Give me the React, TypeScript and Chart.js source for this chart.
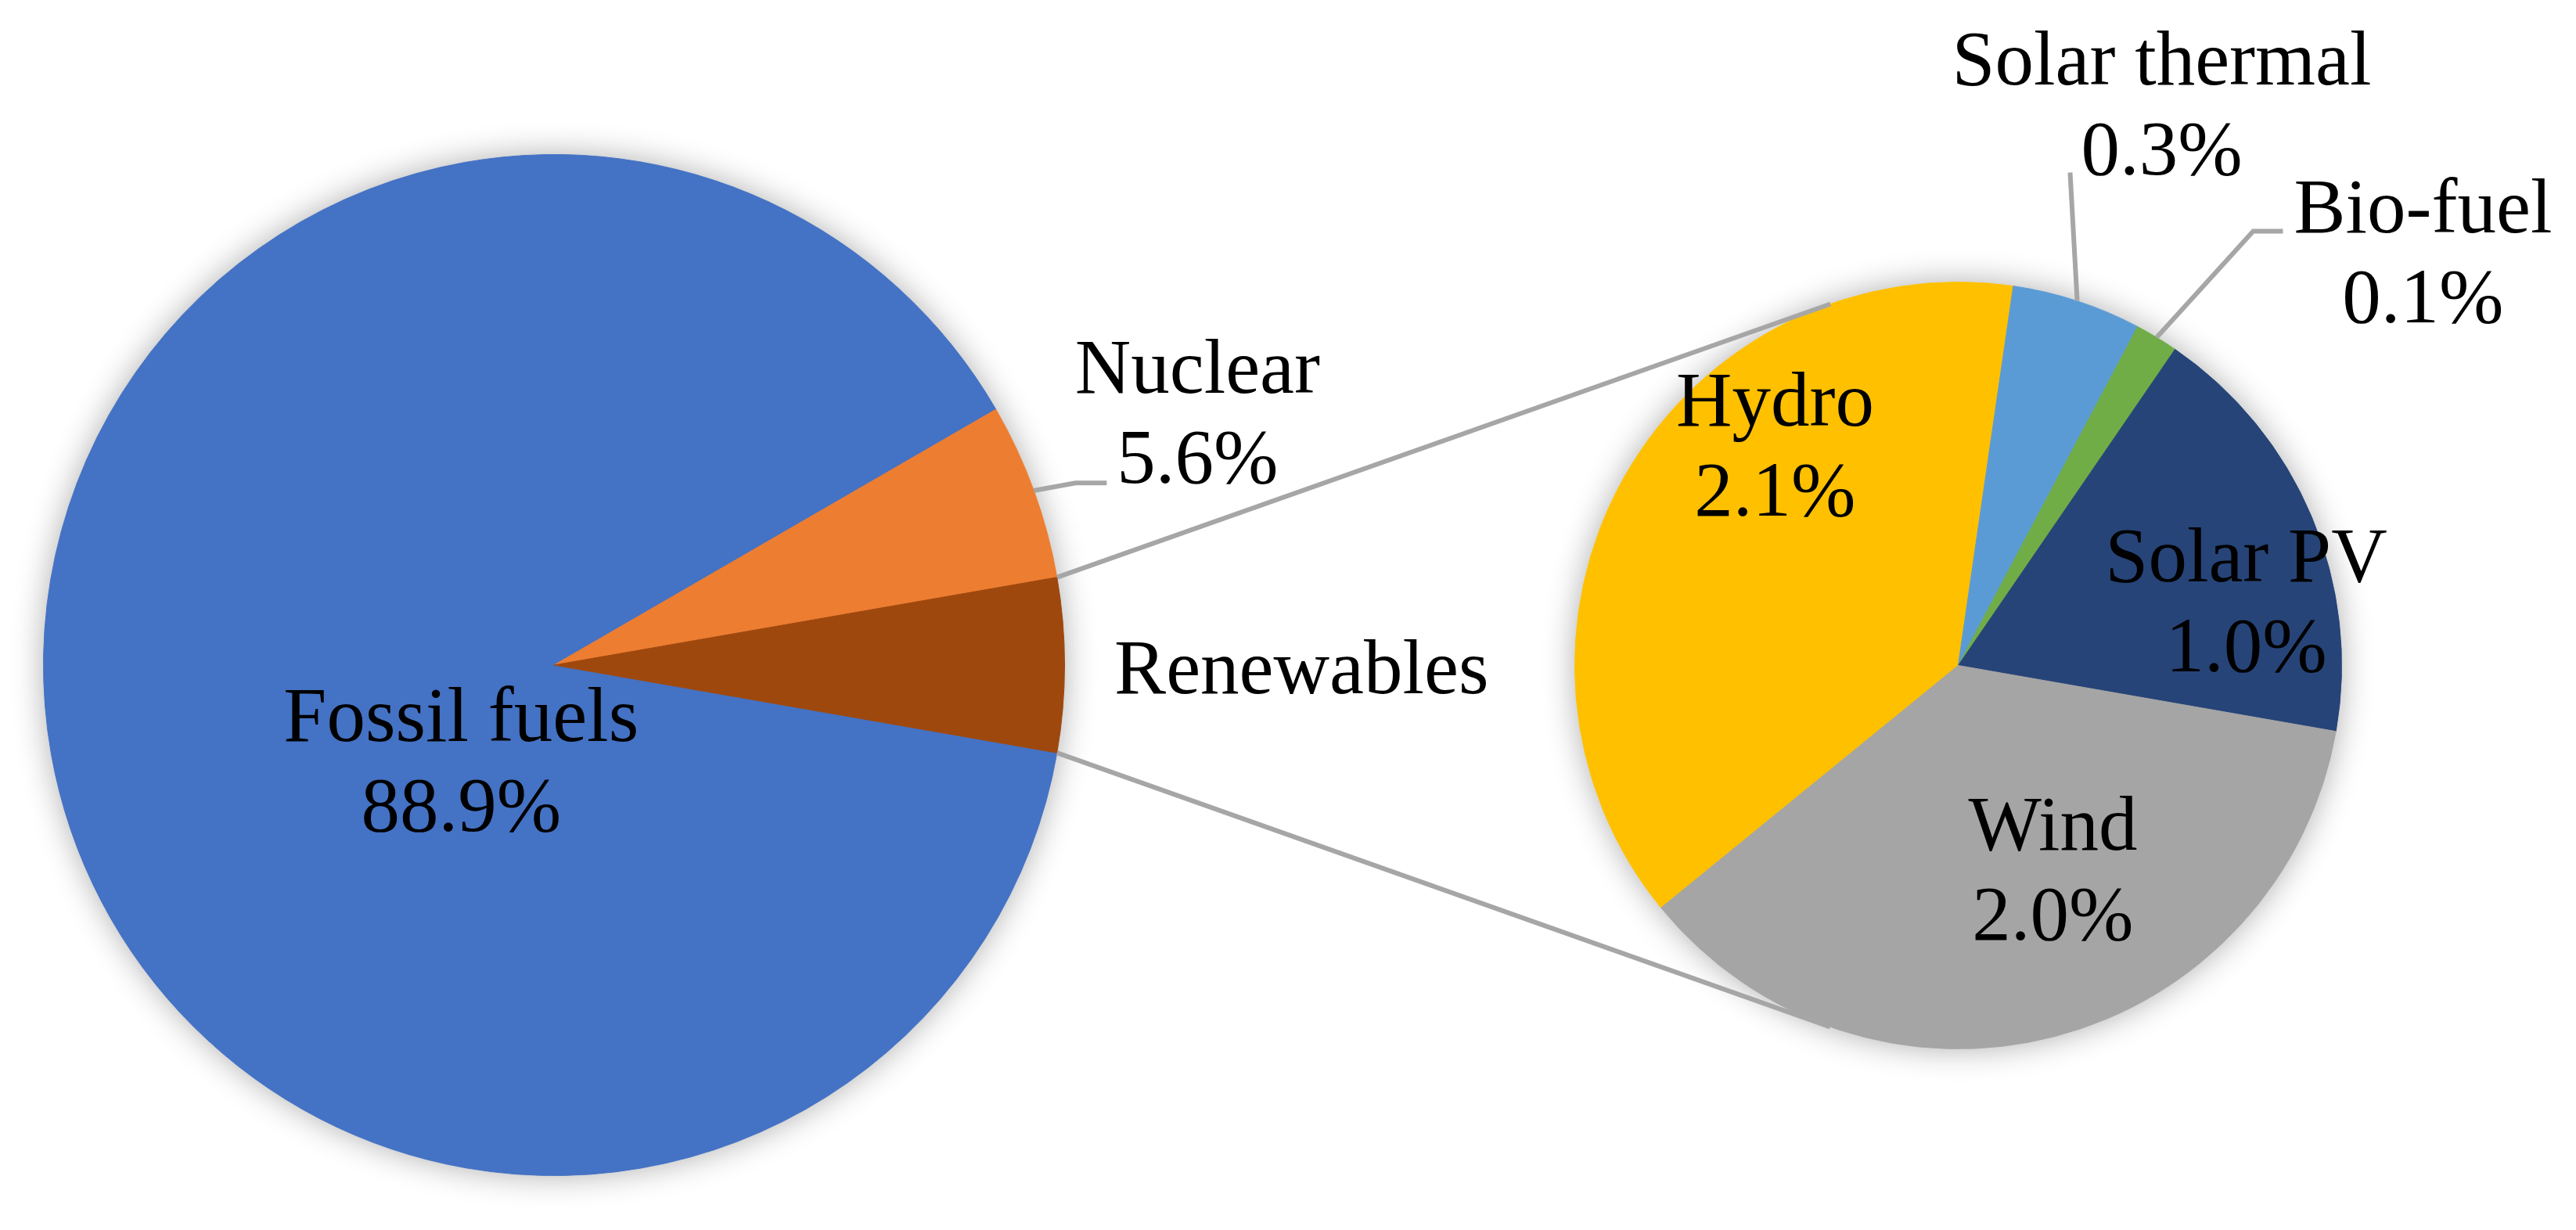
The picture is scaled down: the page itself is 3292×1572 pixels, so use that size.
import React, { useEffect, useRef } from "react";
import { Chart, registerables } from "chart.js";

Chart.register(...registerables);

// ---------- data ----------
const mainLabels = ["Fossil fuels", "Nuclear", "Renewables"];
const mainValues = [88.9, 5.6, 5.5];
const mainShowValue = [true, true, false];

const subLabels = ["Hydro", "Solar thermal", "Bio-fuel", "Solar PV", "Wind"];
const subValues = [2.1, 0.3, 0.1, 1.0, 2.0];
const subShowValue = [true, true, true, true, true];

// ---------- style ----------
const mainColors = ["#4472C4", "#ED7D31", "#9E480E"];
const subColors = ["#FFC000", "#5B9BD5", "#70AD47", "#264478", "#A5A5A5"];

const W = 3292;
const H = 1572;
const FONT = '99px "Liberation Serif", "Times New Roman", serif';
const LINE_H = 115;
const LINE_COLOR = "#A6A6A6";
const LINE_W = 6;

// label anchors (centre of first text line, at its baseline) in units of the pie radius
const mainLabelPos = [
  [-0.182, 0.1485],
  [1.2603, -0.5329],
  [1.464, 0.0551],
];
const subLabelPos = [
  [-0.4776, -0.6265],
  [0.5306, -1.5163],
  [1.2122, -1.1306],
  [0.751, -0.2184],
  [0.2469, 0.4796],
];
// leader lines: [elbowDx, elbowDy, endDx, endDy] in px relative to the label anchor
const mainLeaders: (number[] | null)[] = [null, [-156, 115, -116, 115], null];
const subLeaders: (number[] | null)[] = [null, [-117, 113, -117, 113], [-217, -1, -179, -1], null, null];

function fmt(v: number) {
  return v.toFixed(1) + "%";
}

function decorPlugin(
  id: string,
  labels: string[],
  values: number[],
  showValue: boolean[],
  pos: number[][],
  leaders: (number[] | null)[]
) {
  return {
    id,
    beforeDatasetsDraw(chart: any) {
      const arc = chart.getDatasetMeta(0).data[0];
      if (!arc) return;
      const p = arc.getProps(["x", "y", "outerRadius"], true);
      const ctx = chart.ctx;
      ctx.save();
      ctx.shadowColor = "rgba(0,0,0,0.32)";
      ctx.shadowBlur = 40;
      ctx.fillStyle = "#ffffff";
      ctx.beginPath();
      ctx.arc(p.x, p.y, p.outerRadius, 0, Math.PI * 2);
      ctx.fill();
      ctx.restore();
    },
    afterDatasetsDraw(chart: any) {
      const meta = chart.getDatasetMeta(0);
      const ctx = chart.ctx;
      ctx.save();
      meta.data.forEach((el: any, i: number) => {
        const p = el.getProps(["x", "y", "startAngle", "endAngle", "outerRadius"], true);
        const ax = p.x + pos[i][0] * p.outerRadius;
        const ay = p.y + pos[i][1] * p.outerRadius;
        const ld = leaders[i];
        if (ld) {
          const mid = (p.startAngle + p.endAngle) / 2;
          const sx = p.x + Math.cos(mid) * p.outerRadius;
          const sy = p.y + Math.sin(mid) * p.outerRadius;
          ctx.strokeStyle = LINE_COLOR;
          ctx.lineWidth = LINE_W;
          ctx.lineJoin = "miter";
          ctx.beginPath();
          ctx.moveTo(sx, sy);
          ctx.lineTo(ax + ld[0], ay + ld[1]);
          ctx.lineTo(ax + ld[2], ay + ld[3]);
          ctx.stroke();
        }
        ctx.fillStyle = "#000000";
        ctx.font = FONT;
        ctx.textAlign = "center";
        ctx.textBaseline = "alphabetic";
        ctx.fillText(labels[i], ax, ay);
        if (showValue[i]) ctx.fillText(fmt(values[i]), ax, ay + LINE_H);
      });
      ctx.restore();
    },
  };
}

export default function App() {
  const leftRef = useRef<HTMLCanvasElement | null>(null);
  const rightRef = useRef<HTMLCanvasElement | null>(null);

  useEffect(() => {
    document.body.style.margin = "0";
    if (!leftRef.current || !rightRef.current) return;

    const mainTotal = mainValues.reduce((a, b) => a + b, 0);
    const renewIdx = mainLabels.length - 1;
    const renewShare = mainValues[renewIdx] / mainTotal;
    // renewables slice centred on the right-hand side
    const mainRotation = 90 + 180 * renewShare;

    const subTotal = subValues.reduce((a, b) => a + b, 0);
    const beforeWind = subValues.slice(0, subValues.length - 1).reduce((a, b) => a + b, 0);
    const halfRenewDeg = 180 * renewShare;
    const subStartDeg = halfRenewDeg - (beforeWind / subTotal) * 360;
    const subRotation = subStartDeg + 90;

    const leftChart = new Chart(leftRef.current, {
      type: "pie",
      data: {
        labels: mainLabels,
        datasets: [
          {
            data: mainValues,
            backgroundColor: mainColors,
            borderColor: mainColors,
            borderWidth: 1,
          },
        ],
      },
      options: {
        responsive: false,
        animation: false,
        rotation: mainRotation,
        layout: { padding: { left: 55, right: 1931, top: 197, bottom: 69 } },
        plugins: { legend: { display: false }, tooltip: { enabled: false } },
      },
      plugins: [decorPlugin("mainDecor", mainLabels, mainValues, mainShowValue, mainLabelPos, mainLeaders)],
    } as any);

    const connectorPlugin = {
      id: "connectors",
      afterDatasetsDraw(chart: any) {
        const lArc: any = leftChart.getDatasetMeta(0).data[renewIdx];
        const rArc: any = chart.getDatasetMeta(0).data[0];
        if (!lArc || !rArc) return;
        const lp = lArc.getProps(["x", "y", "startAngle", "endAngle", "outerRadius"], true);
        const rp = rArc.getProps(["x", "y", "outerRadius"], true);
        const ctx = chart.ctx;
        ctx.save();
        ctx.strokeStyle = LINE_COLOR;
        ctx.lineWidth = LINE_W;
        [lp.startAngle, lp.endAngle].forEach((a: number, k: number) => {
          const px = lp.x + Math.cos(a) * lp.outerRadius;
          const py = lp.y + Math.sin(a) * lp.outerRadius;
          const dx = px - rp.x;
          const dy = py - rp.y;
          const d = Math.hypot(dx, dy);
          const phi = Math.atan2(dy, dx);
          const alpha = Math.acos(Math.min(1, rp.outerRadius / d));
          const t1 = phi + alpha;
          const t2 = phi - alpha;
          const y1 = Math.sin(t1);
          const y2 = Math.sin(t2);
          const t = k === 0 ? (y1 < y2 ? t1 : t2) : (y1 > y2 ? t1 : t2);
          ctx.beginPath();
          ctx.moveTo(px, py);
          ctx.lineTo(rp.x + Math.cos(t) * rp.outerRadius, rp.y + Math.sin(t) * rp.outerRadius);
          ctx.stroke();
        });
        ctx.restore();
      },
    };

    const rightChart = new Chart(rightRef.current, {
      type: "pie",
      data: {
        labels: subLabels,
        datasets: [
          {
            data: subValues,
            backgroundColor: subColors,
            borderColor: subColors,
            borderWidth: 1,
          },
        ],
      },
      options: {
        responsive: false,
        animation: false,
        rotation: subRotation,
        layout: { padding: { left: 2012, right: 299, top: 360, bottom: 231 } },
        plugins: { legend: { display: false }, tooltip: { enabled: false } },
      },
      plugins: [
        connectorPlugin,
        decorPlugin("subDecor", subLabels, subValues, subShowValue, subLabelPos, subLeaders),
      ],
    } as any);

    return () => {
      rightChart.destroy();
      leftChart.destroy();
    };
  }, []);

  return (
    <div
      style={{
        position: "fixed",
        left: 0,
        top: 0,
        width: W,
        height: H,
        background: "#ffffff",
        overflow: "hidden",
      }}
    >
      <canvas
        ref={leftRef}
        width={W}
        height={H}
        style={{ position: "absolute", left: 0, top: 0, width: W, height: H }}
      />
      <canvas
        ref={rightRef}
        width={W}
        height={H}
        style={{ position: "absolute", left: 0, top: 0, width: W, height: H }}
      />
    </div>
  );
}
